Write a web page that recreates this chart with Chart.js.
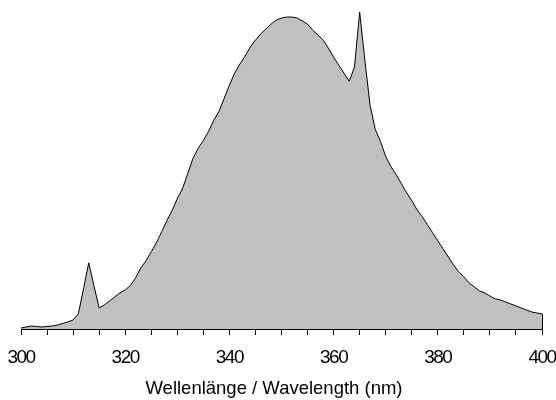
<!DOCTYPE html>
<html lang="de">
<head>
  <meta charset="UTF-8" />
  <title>Spektrum</title>
  <script src="https://cdn.jsdelivr.net/npm/chart.js"></script>
  <style>
    html, body { margin: 0; background: #fff; }
    .wrap { width: 556px; height: 400px; }
  </style>
</head>
<body>
  <div class="wrap"><canvas id="spectrum"></canvas></div>

  <script>
    // Wavelength in nm (one point per nm)
    const wavelengths = [
      300, 301, 302, 303, 304, 305, 306, 307, 308, 309,
      310, 311, 312, 313, 314, 315, 316, 317, 318, 319,
      320, 321, 322, 323, 324, 325, 326, 327, 328, 329,
      330, 331, 332, 333, 334, 335, 336, 337, 338, 339,
      340, 341, 342, 343, 344, 345, 346, 347, 348, 349,
      350, 351, 352, 353, 354, 355, 356, 357, 358, 359,
      360, 361, 362, 363, 364, 365, 366, 367, 368, 369,
      370, 371, 372, 373, 374, 375, 376, 377, 378, 379,
      380, 381, 382, 383, 384, 385, 386, 387, 388, 389,
      390, 391, 392, 393, 394, 395, 396, 397, 398, 399,
      400
    ];
    // Relative intensity (arbitrary units)
    const intensity = [
      1, 2, 3, 2.5, 2, 2.5, 3, 4, 5.5, 7,
      9, 15, 40, 66, 43, 21, 24, 28, 32, 36,
      39, 43.5, 51, 61, 68, 77, 86, 97, 108, 118,
      130, 140, 155, 170, 180, 188, 197, 208, 217, 230,
      243, 255, 264, 272, 281, 288, 294, 299, 304, 308,
      310, 311, 311, 310, 307, 304, 298, 293, 288, 280,
      271, 263, 255, 247, 261, 316, 268, 223, 199, 187,
      172, 162, 154, 145, 136, 128, 119, 112, 104, 96,
      88, 80, 72, 64, 57, 52, 46, 42, 38, 36,
      33, 30, 29, 27, 25, 23, 21, 19, 17, 16,
      15
    ];
    const tickLabels = [300, 320, 340, 360, 380, 400];

    // closes the filled area at the right edge with a black line
    const edgeLine = {
      id: 'edgeLine',
      afterDatasetsDraw(chart) {
        const { ctx, scales: { x, y } } = chart;
        const last = wavelengths.length - 1;
        const px = Math.round(x.getPixelForValue(wavelengths[last])) + 0.5;
        ctx.save();
        ctx.strokeStyle = '#000';
        ctx.lineWidth = 1;
        ctx.beginPath();
        ctx.moveTo(px, y.getPixelForValue(intensity[last]));
        ctx.lineTo(px, y.getPixelForValue(0));
        ctx.stroke();
        ctx.restore();
      }
    };

    // the tick numbers in the original are set very tight
    const tightTicks = {
      id: 'tightTicks',
      beforeDraw(chart) {
        const s = chart.scales.x;
        if (s._tight) return;
        const orig = s.drawLabels.bind(s);
        s.drawLabels = function (area) {
          const c = this.ctx;
          c.save();
          c.letterSpacing = '-1.5px';
          orig(area);
          c.restore();
        };
        s._tight = true;
      }
    };

    new Chart(document.getElementById('spectrum'), {
      type: 'line',
      data: {
        datasets: [{
          data: wavelengths.map((w, i) => ({ x: w, y: intensity[i] })),
          borderColor: '#000',
          borderWidth: 1,
          backgroundColor: '#c0c0c0',
          fill: 'origin',
          pointRadius: 0,
          tension: 0
        }]
      },
      options: {
        responsive: true,
        maintainAspectRatio: false,
        animation: false,
        layout: { padding: { left: 6, right: 14, top: 10, bottom: 0 } },
        plugins: {
          legend: { display: false },
          tooltip: { enabled: false },
          title: {
            display: true,
            position: 'bottom',
            text: 'Wellenlänge / Wavelength (nm)',
            color: '#000',
            font: { family: "'Liberation Sans', Arial, sans-serif", size: 18.5, weight: 'normal', lineHeight: '22px' },
            padding: 0
          }
        },
        scales: {
          x: {
            type: 'linear',
            min: 300,
            max: 400,
            afterFit(scale) {
              scale.height = 49;
              scale.paddingLeft = 21;
              scale.paddingRight = 0;
            },
            grid: {
              drawOnChartArea: false,
              drawTicks: true,
              tickLength: 6,
              color: '#000',
              tickColor: '#000'
            },
            border: { color: '#000', width: 1 },
            ticks: {
              stepSize: 5,
              autoSkip: false,
              maxRotation: 0,
              padding: 11,
              color: '#000',
              font: { family: "'Liberation Sans', Arial, sans-serif", size: 19 },
              callback: v => tickLabels.includes(v) ? String(v) : ''
            }
          },
          y: {
            display: false,
            min: 0,
            max: 318
          }
        }
      },
      plugins: [edgeLine, tightTicks]
    });
  </script>
</body>
</html>
